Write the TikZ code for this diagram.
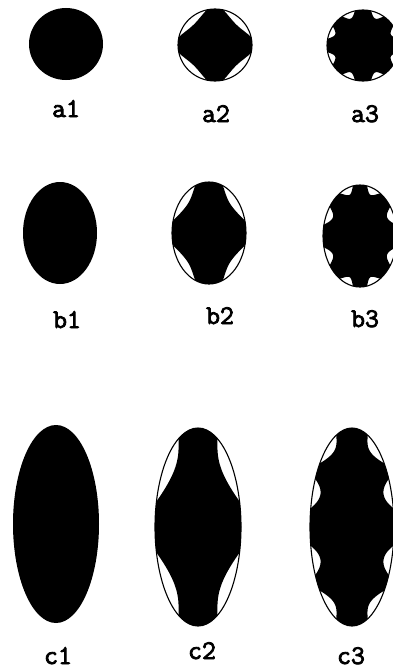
\documentclass[tikz,border=0pt]{standalone}
\usepackage{fontspec}
\newfontfamily\labelfont[FakeBold=3]{Latin Modern Mono}
\usepackage{tikz}

\tikzset{declare function={
  fold(\t)=asin(min(1,abs(sin(\t))));
  bump(\u)=max(0,1-\u*\u);
}}

% #1,#2 centre, #3,#4 radii, #5 depth, #6 notch angle, #7 half width
\newcommand\quadcell[7]{%
  \fill[cellfill] plot[domain=0:360,samples=361,variable=\t]
    ({#1+cos(\t)*(#3-#5*bump((fold(\t)-#6)/#7)*#4/sqrt(#4*#4*cos(\t)*cos(\t)+#3*#3*sin(\t)*sin(\t)))},
     {#2+sin(\t)*(#4-#5*bump((fold(\t)-#6)/#7)*#3/sqrt(#4*#4*cos(\t)*cos(\t)+#3*#3*sin(\t)*sin(\t)))}) -- cycle;
  \draw[outline] (#1,#2) ellipse [x radius=#3,y radius=#4];
}
% two notches in each quadrant: #6,#7 and #8,#9
\newcommand\octcell[9]{%
  \fill[cellfill] plot[domain=0:360,samples=361,variable=\t]
    ({#1+cos(\t)*(#3-#5*(bump((fold(\t)-#6)/#7)+bump((fold(\t)-#8)/#9))*#4/sqrt(#4*#4*cos(\t)*cos(\t)+#3*#3*sin(\t)*sin(\t)))},
     {#2+sin(\t)*(#4-#5*(bump((fold(\t)-#6)/#7)+bump((fold(\t)-#8)/#9))*#3/sqrt(#4*#4*cos(\t)*cos(\t)+#3*#3*sin(\t)*sin(\t)))}) -- cycle;
  \draw[outline] (#1,#2) ellipse [x radius=#3,y radius=#4];
}

\begin{document}
\begin{tikzpicture}[
  x=1pt,y=-1pt,
  cellfill/.style={fill=black},
  outline/.style={draw=black,line width=1.1pt},
  tag/.style={font=\labelfont\fontsize{27}{27}\selectfont,inner sep=0pt,anchor=base}
]
\useasboundingbox (0,0) rectangle (392,669);

% row a
\fill[cellfill] (66,44) ellipse [x radius=37,y radius=36];
\quadcell{215}{45}{37}{36}{7}{45}{32}
\octcell{363}{45.5}{36}{35.5}{6}{22}{11}{66}{11}

% row b
\fill[cellfill] (60,233) ellipse [x radius=37,y radius=51];
\quadcell{209}{233}{37}{51}{8}{41}{27}
\octcell{360}{236}{37}{51}{7}{24}{11}{68}{11}

% row c
\fill[cellfill] (56,524) ellipse [x radius=43,y radius=99];
\quadcell{198}{527}{43}{99}{11}{39}{24}
\octcell{352}{527}{42}{99}{8}{20}{9}{54}{14}

\node[tag] (a1) at (66,117) {a1};
\node[tag] (a2) at (216,122) {a2};
\node[tag] (a3) at (365,122) {a3};
\node[tag] (b1) at (67,328) {b1};
\node[tag] (b2) at (220,324) {b2};
\node[tag] (b3) at (365,327) {b3};
\node[tag] (c1) at (58,664) {c1};
\node[tag] (c2) at (202,659) {c2};
\node[tag] (c3) at (351,664) {c3};
\end{tikzpicture}
\end{document}
